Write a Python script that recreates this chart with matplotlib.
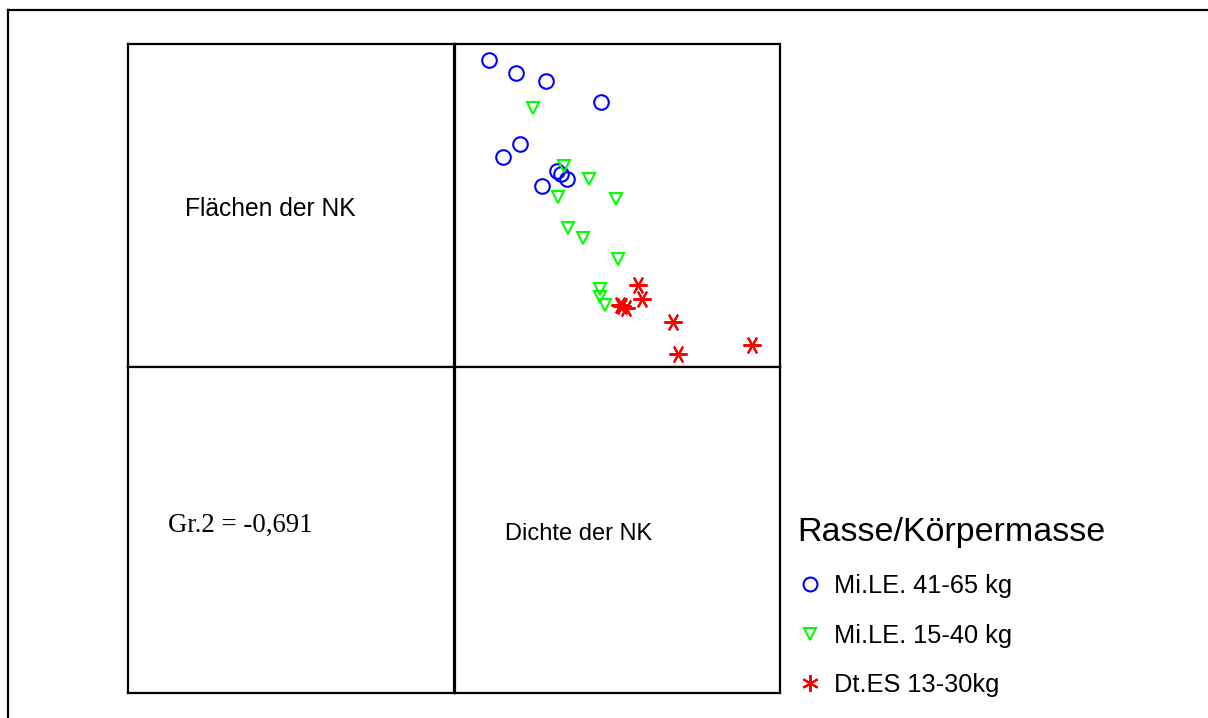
import numpy as np
import matplotlib
matplotlib.use("Agg")
import matplotlib.pyplot as plt
from matplotlib.lines import Line2D

# Scatter data (Dichte der NK on x, Flächen der NK on y, arbitrary units)
groups = ["Mi.LE. 41-65 kg", "Mi.LE. 15-40 kg", "Dt.ES 13-30kg"]

dichte_g1 = [10.7, 19.0, 28.0, 45.1, 20.2, 15.0, 31.4, 32.7, 34.7, 26.9]
flaeche_g1 = [95.0, 90.8, 88.3, 82.0, 68.9, 64.8, 60.6, 59.8, 58.2, 55.8]

dichte_g2 = [24.3, 33.6, 41.4, 31.9, 49.7, 34.9, 39.6, 50.3, 44.8, 44.8, 46.3]
flaeche_g2 = [80.0, 62.2, 58.0, 52.6, 51.9, 43.1, 40.0, 33.4, 24.1, 21.7, 19.3]

dichte_g3 = [56.4, 57.7, 50.8, 51.5, 52.7, 67.2, 68.9, 91.4]
flaeche_g3 = [25.4, 21.1, 19.2, 18.9, 18.3, 13.9, 4.1, 6.9]

corr_label = "Gr.2 = -0,691"
var_labels = ["Flächen der NK", "Dichte der NK"]

W, H = 1208, 718
fig = plt.figure(figsize=(W / 100, H / 100), dpi=100)
plt.rcParams['font.family'] = ['Liberation Sans', 'DejaVu Sans']


def px_axes(x0, y0, x1, y1):
    return fig.add_axes([x0 / W, 1 - y1 / H, (x1 - x0) / W, (y1 - y0) / H])


# 2x2 scatterplot matrix cells
xl, xm, xr = 128, 454.5, 779.5
yt, ym, yb = 43.5, 367, 693
cells = {
    "ul": px_axes(xl, yt, xm, ym),
    "ur": px_axes(xm, yt, xr, ym),
    "ll": px_axes(xl, ym, xm, yb),
    "lr": px_axes(xm, ym, xr, yb),
}
for ax in cells.values():
    ax.set_xticks([])
    ax.set_yticks([])
    for s in ax.spines.values():
        s.set_linewidth(1.6)
        s.set_color("black")

ax = cells["ur"]
star = (6, 2, 90)
ax.plot(dichte_g1, flaeche_g1, linestyle="none", marker="o", markersize=10.5,
        markerfacecolor="none", markeredgecolor="#0000ff", markeredgewidth=1.5)
ax.plot(dichte_g2, flaeche_g2, linestyle="none", marker="v", markersize=9,
        markerfacecolor="none", markeredgecolor="#00ff00", markeredgewidth=1.5)
ax.plot(dichte_g3, flaeche_g3, linestyle="none", marker=star, markersize=13,
        markeredgecolor="#ff0000", markeredgewidth=1.5)
ax.set_xlim(0, 100)
ax.set_ylim(0, 100)

# Labels in cells
fig.text(185 / W, 1 - 216.5 / H, var_labels[0], fontsize=17.7, va="baseline", ha="left")
fig.text(505 / W, 1 - 540 / H, var_labels[1], fontsize=17, va="baseline", ha="left")
fig.text(168 / W, 1 - 531.5 / H, corr_label, fontsize=19.3, va="baseline", ha="left",
         family=["Liberation Serif", "DejaVu Serif"])

# Outer frame (top and left edges visible)
fig.add_artist(Line2D([8 / W, 1.0], [1 - 9.5 / H, 1 - 9.5 / H], color="black", lw=1.6,
                      transform=fig.transFigure))
fig.add_artist(Line2D([8 / W, 8 / W], [0.0, 1 - 9.5 / H], color="black", lw=1.6,
                      transform=fig.transFigure))

# Legend
handles = [
    Line2D([], [], linestyle="none", marker="o", markersize=10, markerfacecolor="none",
           markeredgecolor="#0000ff", markeredgewidth=1.5),
    Line2D([], [], linestyle="none", marker="v", markersize=8.5, markerfacecolor="none",
           markeredgecolor="#00ff00", markeredgewidth=1.5),
    Line2D([], [], linestyle="none", marker=(6, 2, 0), markersize=12,
           markeredgecolor="#ff0000", markeredgewidth=1.5),
]
leg = fig.legend(handles, groups, title="Rasse/Körpermasse", loc="upper left",
                 bbox_to_anchor=(787 / W, 1 - 507 / H), frameon=False, fontsize=18.3,
                 title_fontsize=24.5, alignment="left", handlelength=1.0,
                 handletextpad=0.45, labelspacing=1.01, borderaxespad=0)

fig.savefig("out.png", dpi=100)
